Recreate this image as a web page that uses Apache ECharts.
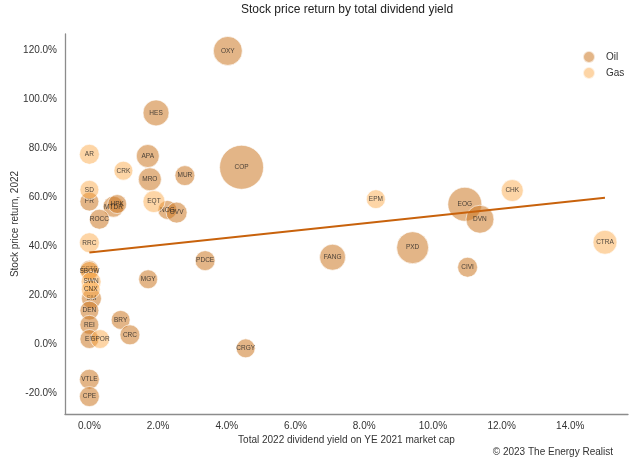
<!DOCTYPE html>
<html>
<head>
<meta charset="utf-8">
<script src="https://cdn.jsdelivr.net/npm/echarts@6/dist/echarts.min.js"></script>
<style>
html,body{margin:0;padding:0;background:#fff;}
#chart{width:640px;height:465px;}
</style>
</head>
<body>
<div id="chart"></div>
<script>
// ---- Data ----
var oilTickers = ['OXY','HES','COP','APA','MRO','MUR','PR','MTDR','HPK','ROCC','NOG','OVV','PDCE','MGY','ESTE','SM','DEN','REI','EP','BRY','CRC','CRGY','VTLE','CPE','FANG','PXD','EOG','DVN','CIVI'];
var oilYield   = [4.03, 1.94, 4.43, 1.70, 1.76, 2.78, 0.00, 0.70, 0.81, 0.29, 2.27, 2.54, 3.37, 1.71, 0.00, 0.06, 0.00, 0.00, 0.00, 0.91, 1.18, 4.55, 0.00, 0.00, 7.08, 9.41, 10.93, 11.37, 11.01];
var oilReturn  = [119.6, 94.3, 72.1, 76.7, 67.2, 68.7, 58.1, 56.0, 57.1, 50.9, 54.7, 53.6, 34.0, 26.4, 30.3, 18.5, 13.6, 7.8, 2.0, 9.8, 3.7, -1.8, -14.4, -21.5, 35.4, 39.3, 57.0, 50.9, 31.3];
var oilCap     = [39.7, 32.0, 91.5, 25.0, 25.0, 18.9, 17.0, 20.8, 17.0, 18.9, 17.0, 20.8, 18.9, 17.0, 17.0, 18.9, 17.0, 17.0, 17.0, 17.0, 18.9, 17.0, 18.9, 18.9, 32.0, 48.4, 54.6, 37.0, 18.9];

var gasTickers = ['AR','CRK','SD','EQT','RRC','SBOW','SWN','CNX','GPOR','EPM','CHK','CTRA'];
var gasYield   = [0.00, 0.99, 0.00, 1.88, 0.00, 0.00, 0.05, 0.04, 0.31, 8.34, 12.31, 15.01];
var gasReturn  = [77.4, 70.7, 62.9, 58.1, 41.3, 29.8, 25.4, 22.2, 2.0, 59.1, 62.6, 41.5];
var gasCap     = [18.9, 17.0, 17.0, 22.9, 18.9, 17.0, 18.9, 17.0, 17.0, 17.0, 22.9, 27.2];

var trendX = [0.0, 15.01];
var trendY = [37.3, 59.7];

var xTicks = [0, 2, 4, 6, 8, 10, 12, 14];
var yTicks = [-20, 0, 20, 40, 60, 80, 100, 120];

var titleText = 'Stock price return by total dividend yield';
var xName = 'Total 2022 dividend yield on YE 2021 market cap';
var yName = 'Stock price return, 2022';
var credit = '\u00a9 2023 The Energy Realist';

// ---- Build ----
function pts(t, x, y, c) {
  return t.map(function (n, i) { return { name: n, value: [x[i], y[i], c[i]] }; });
}
var FONT = 'Liberation Sans, Arial, sans-serif';
var bubbleSize = function (v) { return 4.6 * Math.sqrt(v[2]); };
var labelCfg = { show: true, position: 'inside', formatter: '{b}', fontSize: 6.5, color: '#222', fontFamily: FONT };

var chart = echarts.init(document.getElementById('chart'), null, { renderer: 'canvas' });
chart.setOption({
  animation: false,
  backgroundColor: '#fff',
  textStyle: { fontFamily: FONT },
  grid: { left: 65, right: 12, top: 34, bottom: 51, containLabel: false, outerBoundsMode: 'none' },
  legend: {
    orient: 'vertical', left: 582, top: 50, itemWidth: 12, itemHeight: 12, itemGap: 2, padding: 0,
    icon: 'circle', textStyle: { fontSize: 10, color: '#333', fontFamily: FONT, padding: [0, 0, 0, 6] },
    data: ['Oil', 'Gas']
  },
  xAxis: {
    type: 'value', min: -0.71, max: 15.68,
    name: xName, nameLocation: 'middle', nameGap: 21, nameMoveOverlap: false,
    nameTextStyle: { fontSize: 10, color: '#333', fontFamily: FONT },
    axisLine: { show: true, onZero: false, lineStyle: { color: '#8c8c8c', width: 1.3 } },
    axisTick: { show: false },
    splitLine: { show: false },
    axisLabel: { customValues: xTicks, fontSize: 10, color: '#333', margin: 7, formatter: function (v) { return v.toFixed(1) + '%'; } }
  },
  yAxis: {
    type: 'value', min: -28.6, max: 126.5,
    name: yName, nameLocation: 'middle', nameGap: 45, nameMoveOverlap: false,
    nameTextStyle: { fontSize: 10, color: '#333', fontFamily: FONT },
    axisLine: { show: true, onZero: false, lineStyle: { color: '#8c8c8c', width: 1.3 } },
    axisTick: { show: false },
    splitLine: { show: false },
    axisLabel: { customValues: yTicks, fontSize: 10, color: '#333', margin: 8, formatter: function (v) { return v.toFixed(1) + '%'; } }
  },
  graphic: [
    { type: 'text', x: 347, y: 4, style: { text: titleText, fontSize: 12, fill: '#222', fontFamily: FONT, textAlign: 'center' } },
    { type: 'text', x: 613, y: 447, style: { text: credit, fontSize: 10, fill: '#333', fontFamily: FONT, textAlign: 'right' } }
  ],
  series: [
    {
      name: 'Oil', type: 'scatter', data: pts(oilTickers, oilYield, oilReturn, oilCap),
      symbolSize: bubbleSize,
      itemStyle: { color: 'rgba(204,118,34,0.68)', borderColor: 'rgba(255,255,255,0.8)', borderWidth: 1 },
      label: labelCfg, emphasis: { disabled: true }, z: 2
    },
    {
      name: 'Gas', type: 'scatter', data: pts(gasTickers, gasYield, gasReturn, gasCap),
      symbolSize: bubbleSize,
      itemStyle: { color: 'rgba(251,168,68,0.6)', borderColor: 'rgba(255,255,255,0.8)', borderWidth: 1 },
      label: labelCfg, emphasis: { disabled: true }, z: 3
    },
    {
      name: 'trend', type: 'line', data: trendX.map(function (x, i) { return [x, trendY[i]]; }),
      symbol: 'none', lineStyle: { color: '#c8620c', width: 2 }, z: 5, silent: true
    }
  ]
});
</script>
</body>
</html>
